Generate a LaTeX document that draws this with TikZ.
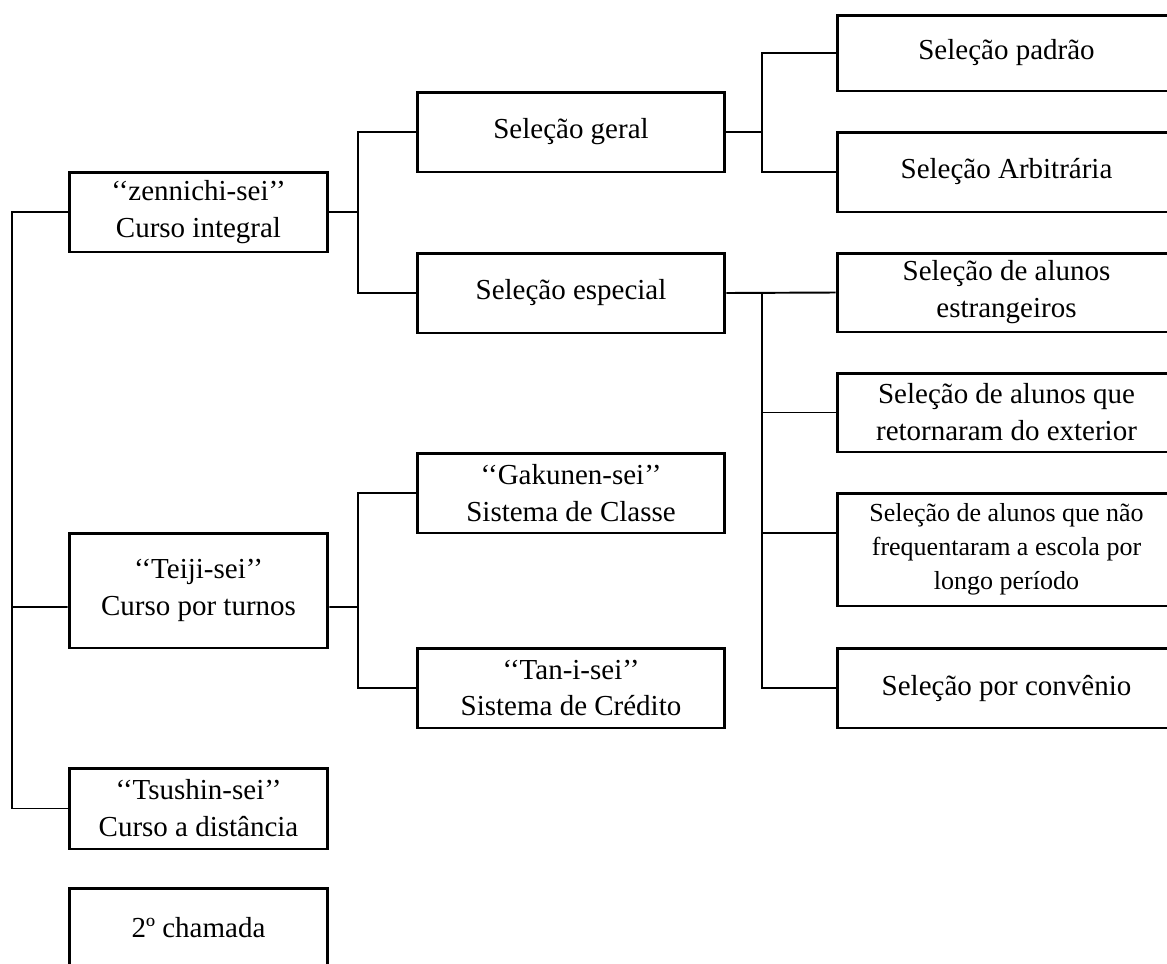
\documentclass[tikz,border=0pt]{standalone}
\usepackage{fontspec}
\setmainfont{Liberation Serif}
\begin{document}
\begin{tikzpicture}[x=0.02cm, y=-0.02cm]
  % Styles
  \tikzstyle{box} = [rectangle, draw, line width=1.7pt, align=center, inner sep=0pt, font=\fontsize{16.5}{21}\selectfont]
  \tikzstyle{course} = [box, minimum width=5.18cm, minimum height=1.6cm]
  \tikzstyle{selection} = [box, minimum width=6.16cm, minimum height=1.6cm]
  \tikzstyle{kind} = [box, minimum width=6.78cm, minimum height=1.6cm]
  \tikzstyle{line} = [line width=1.1pt]

  % Frame
  \useasboundingbox (0,0) rectangle (1167,964);
  \clip (0,0) rectangle (1167,964);

  % Course Nodes - explicit coordinates
  \node[course] (zen) at (198.5,212) {‘‘zennichi-sei’’\\Curso integral};
  \node[course, minimum height=2.3cm] (teiji) at (198.5,590.5) {‘‘Teiji-sei’’\\Curso por turnos};
  \node[course, minimum height=1.62cm] (tsu) at (198.5,808.5) {‘‘Tsushin-sei’’\\Curso a distância};
  \node[course] (cham) at (198.5,928) {2º chamada};

  % Selection Nodes
  \node[selection] (geral) at (571,132) {Seleção geral};
  \node[selection] (esp) at (571,293) {Seleção especial};
  \node[selection] (gak) at (571,493) {‘‘Gakunen-sei’’\\Sistema de Classe};
  \node[selection] (tan) at (571,688) {‘‘Tan-i-sei’’\\Sistema de Crédito};

  % Kind Nodes
  \node[kind, minimum height=1.52cm] (pad) at (1006.5,53) {Seleção padrão};
  \node[kind] (arb) at (1006.5,172) {Seleção Arbitrária};
  \node[kind, minimum height=1.58cm] (est) at (1006.5,292.5) {Seleção de alunos\\estrangeiros};
  \node[kind, minimum height=1.58cm] (ret) at (1006.5,412.5) {Seleção de alunos que\\retornaram do exterior};
  \node[kind, minimum height=2.26cm, font=\fontsize{14.8}{19.5}\selectfont] (nao) at (1006.5,549.5) {Seleção de alunos que não\\frequentaram a escola por\\longo período};
  \node[kind] (conv) at (1006.5,688) {Seleção por convênio};

  % Junctions
  \coordinate (jl) at (12,607);
  \coordinate (jz) at (358,212);
  \coordinate (jt) at (358,607);
  \coordinate (jg) at (762,132);
  \coordinate (je) at (762,293);

  % Lines
  \draw[line] (zen.west) -| (jl) |- (tsu.west);
  \draw[line] ([yshift=-0.33cm]teiji.west) -- (jl);
  \draw[line] (zen.east) -- (jz);
  \draw[line] (geral.west) -| (jz) |- (esp.west);
  \draw[line] ([yshift=-0.33cm]teiji.east) -- (jt);
  \draw[line] (gak.west) -| (jt) |- (tan.west);
  \draw[line] (geral.east) -- (jg);
  \draw[line] (pad.west) -| (jg) |- (arb.west);
  \draw[line] (esp.east) -- (est.west);
  \draw[line] (je) |- (ret.west);
  \draw[line] (je) |- ([yshift=0.33cm]nao.west);
  \draw[line] (je) |- (conv.west);
\end{tikzpicture}
\end{document}
